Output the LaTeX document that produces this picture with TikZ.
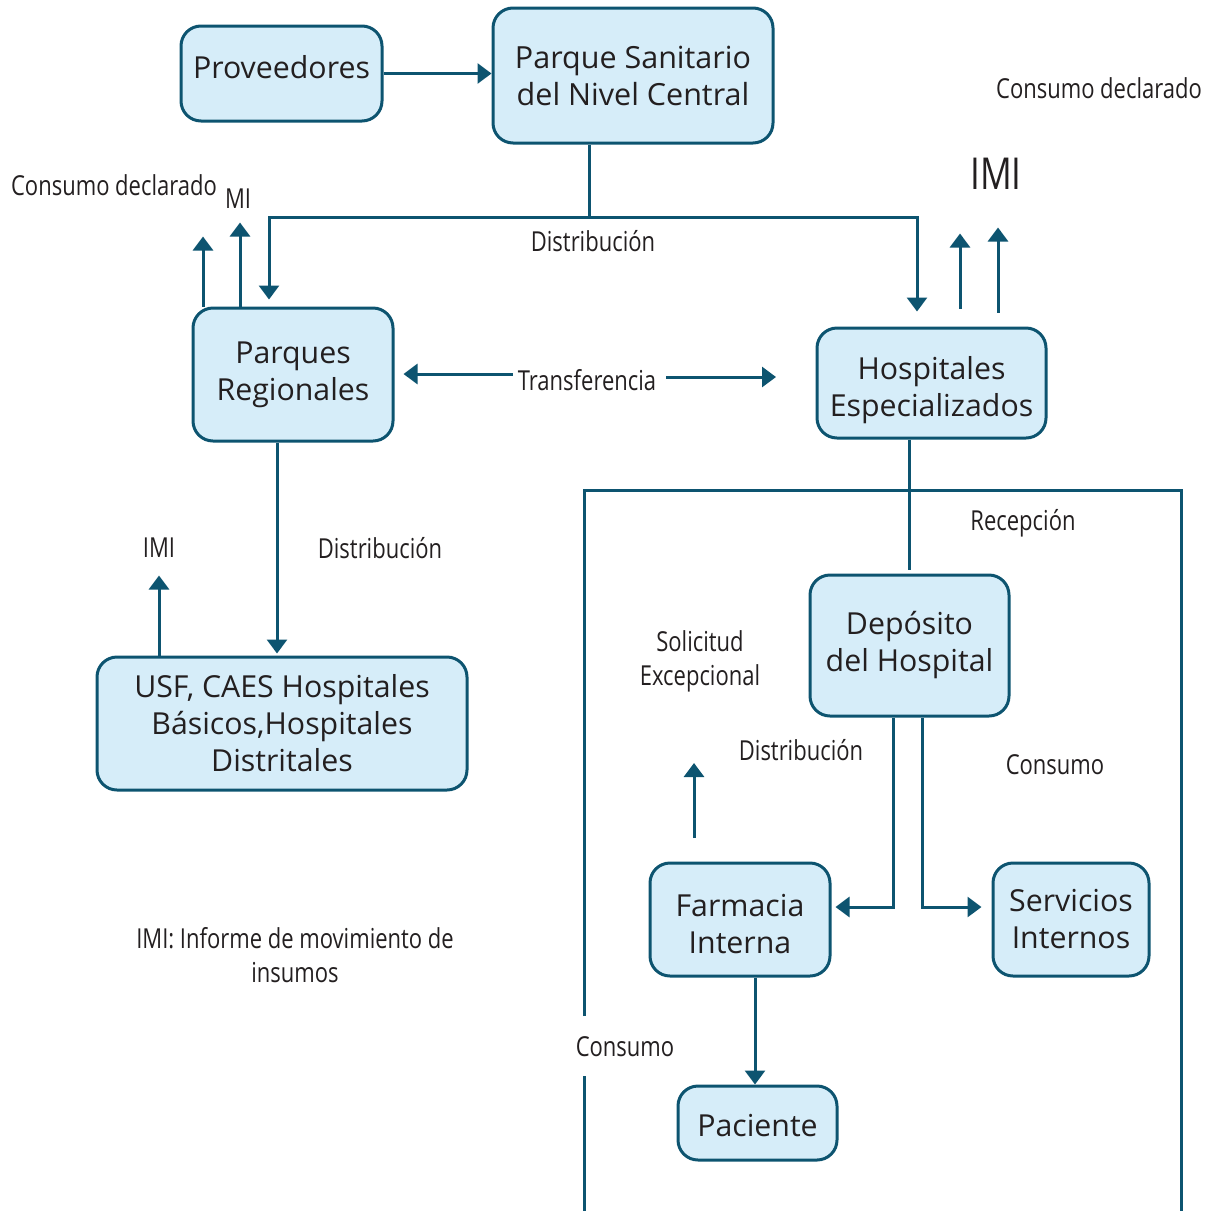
\documentclass[tikz,border=0pt]{standalone}
\usepackage{fontspec}
\setmainfont{Open Sans}
\newfontfamily\boxfont{Open Sans}
\newfontfamily\narrowfont[FakeStretch=0.8]{Open Sans}
\usetikzlibrary{arrows.meta}
\definecolor{edge}{HTML}{0D5470}
\definecolor{boxfill}{HTML}{D6EDF9}
\definecolor{ink}{HTML}{231F20}
% box text shifted vertically while keeping its nominal size
\newcommand{\shifted}[2]{\raisebox{#1}[\height][\depth]{\begin{tabular}{@{}c@{}}#2\end{tabular}}}

\begin{document}
\begin{tikzpicture}[x=1pt,y=-1pt,
  stage/.style={draw=edge, fill=boxfill, line width=3pt, rounded corners=20pt,
    align=center, text=ink, font=\boxfont\fontsize{30.3}{37}\selectfont, inner sep=0pt},
  flow/.style={draw=edge, line width=3pt},
  arr/.style={flow, -{Triangle[width=20pt,length=14pt]}},
  note/.style={text=ink, font=\narrowfont\fontsize{27.5}{34}\selectfont, align=center, inner sep=0pt},
]
\useasboundingbox (0,0) rectangle (1213,1211);

% boxes
\node[stage, minimum width=201pt, minimum height=95pt] (prov) at (281.5,73.5) {\shifted{2pt}{Proveedores}};
\node[stage, minimum width=280pt, minimum height=135pt, font=\boxfont\fontsize{30.5}{37}\selectfont] (psnc) at (633,75.5) {Parque Sanitario\\del Nivel Central};
\node[stage, minimum width=200pt, minimum height=133pt] (preg) at (293,374.5) {Parques\\Regionales};
\node[stage, minimum width=229pt, minimum height=110pt] (hesp) at (931.5,383) {\shifted{-8pt}{Hospitales\\Especializados}};
\node[stage, minimum width=370pt, minimum height=133pt] (usf) at (282,723.5) {USF, CAES Hospitales\\B\'asicos,Hospitales\\Distritales};
\node[stage, minimum width=199pt, minimum height=141pt] (dep) at (909.5,645.5) {Dep\'osito\\del Hospital};
\node[stage, minimum width=180pt, minimum height=113pt] (farm) at (740,919.5) {\shifted{-8pt}{Farmacia\\Interna}};
\node[stage, minimum width=156pt, minimum height=113pt] (serv) at (1071,919.5) {Servicios\\Internos};
\node[stage, minimum width=159pt, minimum height=74pt] (pac) at (757.5,1123) {\shifted{-6pt}{Paciente}};

% labels
\node[note] (cdl) at (114,185) {Consumo declarado};
\node[note] (mil) at (238,199) {MI};
\node[note] (cdr) at (1099,88) {Consumo declarado};
\node[note, font=\narrowfont\fontsize{44}{50}\selectfont] (imir) at (996,174) {IMI};
\node[note] (dist1) at (593,241) {Distribuci\'on};
\node[note] (tr) at (587,380) {Transferencia};
\node[note] (imil) at (159,548) {IMI};
\node[note] (dist2) at (380,548) {Distribuci\'on};
\node[note] (rec) at (1023,523) {Recepci\'on};
\node[note] (sol) at (700,661) {Solicitud\\Excepcional};
\node[note] (dist3) at (801,750) {Distribuci\'on};
\node[note] (cons1) at (1055,765) {Consumo};
\node[note] (cons2) at (625,1047) {Consumo};
\node[note] (leg) at (295,955) {IMI: Informe de movimiento de\\insumos};

% hospital frame
\coordinate (fTL) at (584,490);
\coordinate (fTR) at (1181,490);
\draw[flow] (584,1016) -- (fTL) -- (fTR) -- (1181,1211);
\draw[flow] (584,1076) -- (584,1211);

% central distribution
\coordinate (j) at (589,217);
\draw[arr] (prov.east) -- (prov.east -| psnc.west);
\draw[flow] (psnc.south -| j) -- (j);
\draw[arr, shorten >=7pt] (j) -| ([xshift=-24pt]preg.north);
\draw[arr, shorten >=15pt] (j) -| ([xshift=-14.5pt]hesp.north);

% reports from regional parks
\draw[arr] ([xshift=-90pt]preg.north) -- ++(0,-70);
\draw[arr] ([xshift=-53pt]preg.north) -- ++(0,-84);

% reports from specialised hospitals
\draw[arr] ([xshift=28.5pt,yshift=18pt]hesp.north) -- ++(0,-75);
\draw[arr] ([xshift=66.5pt,yshift=14pt]hesp.north) -- ++(0,-85);

% transfer between regional parks and hospitals
\coordinate (trR) at (776,377);
\draw[arr, shorten >=9pt] ([xshift=-5pt,yshift=6pt]tr.west) -- ([yshift=6pt]tr.west -| preg.east);
\draw[arr] ([xshift=10pt,yshift=3pt]tr.east) -- (trR);

% regional distribution
\draw[arr, shorten >=2pt] ([xshift=-16pt]preg.south) -- ([xshift=-16pt]preg.south |- usf.north);
\draw[arr] ([xshift=-123pt]usf.north) -- ++(0,-80);

% hospital internal flow
\draw[flow] ([xshift=-22.5pt]hesp.south) -- ([xshift=-22.5pt,yshift=4pt]hesp.south |- dep.north);
\draw[arr, shorten >=4pt] ([xshift=-16.5pt]dep.south) |- ([yshift=12.5pt]farm.east);
\draw[arr, shorten >=10pt] ([xshift=12.5pt]dep.south) |- ([yshift=12.5pt]serv.west);
\coordinate (solB) at (694,838);
\draw[arr] (solB) -- ++(0,-75);
\draw[arr] ([xshift=15pt]farm.south) -- ([xshift=15pt]farm.south |- pac.north);
\end{tikzpicture}
\end{document}
